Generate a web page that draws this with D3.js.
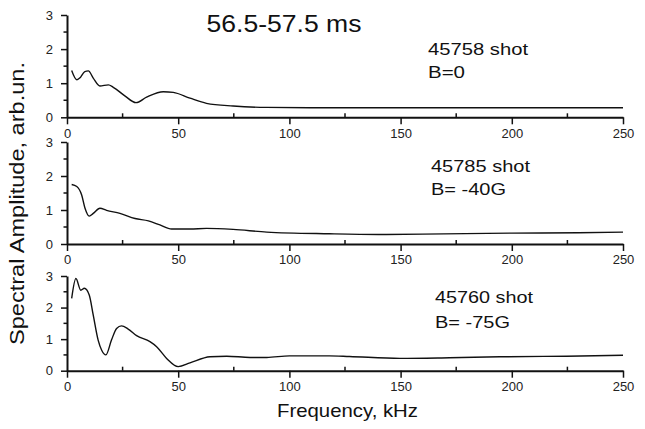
<!DOCTYPE html>
<html>
<head>
<meta charset="utf-8">
<script src="https://cdn.jsdelivr.net/npm/d3@7"></script>
<style>
  body{ margin: 0; background: #fff; }
  text{ font-family: Arial, "Liberation Sans", sans-serif; fill: #111; }
</style>
</head>
<body>
<div id="chart"></div>
<script>
// Spectra, frequency (kHz) vs amplitude (arb.un.).
var freq_top = [2.1, 4.4, 5.7, 8, 9.6, 11.8, 14.8, 18.6, 20.8, 26, 31, 35.8, 43.3, 47.8, 55.3, 62.7, 74.7, 89.7, 118, 150, 200, 250];
var amp_top  = [1.37, 1.10, 1.15, 1.34, 1.36, 1.15, 0.92, 0.95, 0.88, 0.63, 0.43, 0.59, 0.75, 0.73, 0.56, 0.41, 0.33, 0.29, 0.28, 0.28, 0.28, 0.28];

var freq_mid = [2.1, 4.4, 6.6, 8.1, 10, 11.8, 14.8, 17.8, 23.8, 30.6, 36.6, 41.8, 47, 55.3, 62.7, 74.7, 89.8, 118, 140, 160, 200, 230, 250];
var amp_mid  = [1.75, 1.69, 1.44, 1.05, 0.82, 0.90, 1.05, 0.99, 0.90, 0.75, 0.68, 0.56, 0.44, 0.44, 0.46, 0.43, 0.35, 0.30, 0.28, 0.29, 0.32, 0.33, 0.35];

var freq_bot = [2.1, 4, 6.2, 7.8, 10, 11.8, 14, 15.6, 17.5, 20, 22.3, 24.5, 27.5, 31.3, 37.3, 40.3, 44.8, 50, 55.3, 64.3, 71.8, 82.3, 89.8, 100, 118, 127, 149.7, 172, 194.7, 224.6, 250];
var amp_bot  = [2.29, 2.92, 2.55, 2.61, 2.40, 1.76, 0.97, 0.65, 0.50, 0.97, 1.34, 1.42, 1.32, 1.11, 0.92, 0.76, 0.39, 0.13, 0.25, 0.44, 0.46, 0.42, 0.42, 0.47, 0.47, 0.45, 0.39, 0.41, 0.44, 0.46, 0.49];

var x_major_ticks = [0, 50, 100, 150, 200, 250];
var x_minor_ticks = [25, 75, 125, 175, 225];
var y_major_ticks = [0, 1, 2, 3];
var y_minor_ticks = [0.5, 1.5, 2.5];

var shot_labels = [ '45758 shot', '45785 shot', '45760 shot' ];
var field_labels = [ 'B=0', 'B= -40G', 'B= -75G' ];
var title_text = '56.5-57.5 ms';

// Panel layout in pixels (top / bottom of each plot area).
var panels = [
  { freq: freq_top, amp: amp_top, top: 15,  bottom: 117.3, shot: shot_labels[0], field: field_labels[0], lx: 428, sy: 55,  fy: 78,  sw: 100, fw: 37 },
  { freq: freq_mid, amp: amp_mid, top: 142, bottom: 244,   shot: shot_labels[1], field: field_labels[1], lx: 431, sy: 171.5, fy: 195, sw: 99,  fw: 75 },
  { freq: freq_bot, amp: amp_bot, top: 276, bottom: 370.7, shot: shot_labels[2], field: field_labels[2], lx: 435, sy: 303, fy: 328, sw: 98,  fw: 75 }
];

var width = 645, height = 429;
var plot_left = 67, plot_right = 623;

var svg = d3.select( '#chart' ).append( 'svg' )
  .attr( 'width', width )
  .attr( 'height', height );

var x_scale = d3.scaleLinear().domain( [0, 250] ).range( [plot_left, plot_right] );

var line_style = 'stroke: #111; stroke-width: 2px; fill: none;';
var tick_font = 'Arial, "Liberation Sans", sans-serif';

panels.forEach( function( p ){
  var y_scale = d3.scaleLinear().domain( [0, 3] ).range( [p.bottom, p.top] );

  // X axis: major ticks outward, minor ticks inward.
  var gx = svg.append( 'g' )
    .attr( 'transform', 'translate(0,' + p.bottom + ')' )
    .call( d3.axisBottom( x_scale ).tickValues( x_major_ticks ).tickFormat( d3.format( 'd' ) )
      .tickSize( 7 ).tickPadding( 4 ).tickSizeOuter( 0 ) );
  gx.select( '.domain' ).attr( 'style', line_style );
  gx.selectAll( '.tick line' ).attr( 'style', 'stroke: #111; stroke-width: 1.5px;' );
  gx.selectAll( 'text' ).style( 'font-size', '13px' ).style( 'font-family', tick_font ).style( 'fill', '#222' );

  svg.append( 'g' ).selectAll( 'line' )
    .data( x_minor_ticks )
    .enter().append( 'line' )
      .attr( 'x1', function( d ){ return x_scale( d ) } )
      .attr( 'x2', function( d ){ return x_scale( d ) } )
      .attr( 'y1', p.bottom )
      .attr( 'y2', p.bottom - 4 )
      .attr( 'style', 'stroke: #111; stroke-width: 1.5px;' );

  // Y axis: major and minor ticks outward.
  var gy = svg.append( 'g' )
    .attr( 'transform', 'translate(' + plot_left + ',0)' )
    .call( d3.axisLeft( y_scale ).tickValues( y_major_ticks ).tickFormat( d3.format( 'd' ) )
      .tickSize( 6 ).tickPadding( 8 ).tickSizeOuter( 0 ) );
  gy.select( '.domain' ).attr( 'style', line_style );
  gy.selectAll( '.tick line' ).attr( 'style', 'stroke: #111; stroke-width: 1.5px;' );
  gy.selectAll( 'text' ).style( 'font-size', '13px' ).style( 'font-family', tick_font ).style( 'fill', '#222' );

  svg.append( 'g' ).selectAll( 'line' )
    .data( y_minor_ticks )
    .enter().append( 'line' )
      .attr( 'x1', plot_left )
      .attr( 'x2', plot_left - 3.5 )
      .attr( 'y1', function( d ){ return y_scale( d ) } )
      .attr( 'y2', function( d ){ return y_scale( d ) } )
      .attr( 'style', 'stroke: #111; stroke-width: 1.5px;' );

  // The spectrum itself.
  var pts = p.freq.map( function( f, i ){ return [ f, p.amp[i] ] } );
  svg.append( 'path' )
    .datum( pts )
    .attr( 'd', d3.line()
      .x( function( d ){ return x_scale( d[0] ) } )
      .y( function( d ){ return y_scale( d[1] ) } )
      .curve( d3.curveMonotoneX ) )
    .attr( 'style', 'stroke: #111; stroke-width: 1.4px; fill: none;' );

  // Shot / field annotation.
  svg.append( 'text' )
    .attr( 'x', p.lx ).attr( 'y', p.sy )
    .attr( 'textLength', p.sw ).attr( 'lengthAdjust', 'spacingAndGlyphs' )
    .style( 'font-size', '16px' )
    .text( p.shot );
  svg.append( 'text' )
    .attr( 'x', p.lx ).attr( 'y', p.fy )
    .attr( 'textLength', p.fw ).attr( 'lengthAdjust', 'spacingAndGlyphs' )
    .style( 'font-size', '16.5px' )
    .text( p.field );
} );

// Title.
svg.append( 'text' )
  .attr( 'x', 206.5 ).attr( 'y', 31.7 )
  .attr( 'textLength', 155 ).attr( 'lengthAdjust', 'spacingAndGlyphs' )
  .style( 'font-size', '23px' )
  .text( title_text );

// X axis title.
svg.append( 'text' )
  .attr( 'x', 277 ).attr( 'y', 416.7 )
  .attr( 'textLength', 141 ).attr( 'lengthAdjust', 'spacingAndGlyphs' )
  .style( 'font-size', '18.5px' )
  .text( 'Frequency, kHz' );

// Y axis title.
svg.append( 'g' )
  .attr( 'transform', 'translate(24, 345)' )
  .append( 'text' )
    .attr( 'transform', 'rotate(-90)' )
    .attr( 'textLength', 283 ).attr( 'lengthAdjust', 'spacingAndGlyphs' )
    .style( 'font-size', '20px' )
    .text( 'Spectral Amplitude, arb.un.' );
</script>
</body>
</html>
